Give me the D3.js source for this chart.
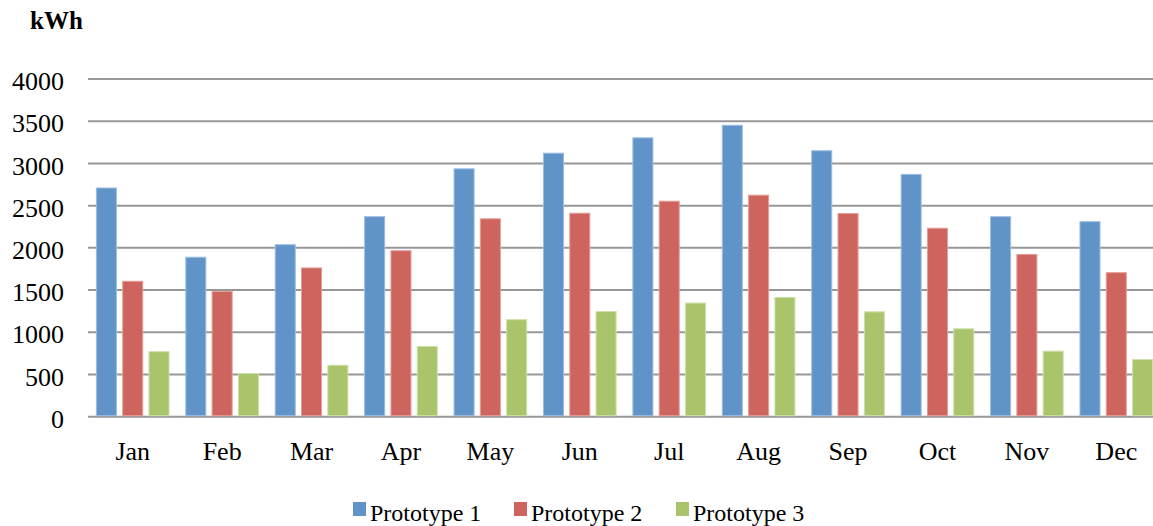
<!DOCTYPE html>
<html>
<head>
<meta charset="utf-8">
<script src="https://cdn.jsdelivr.net/npm/d3@7"></script>
<style>
  body { margin: 0; background: #fff; }
  svg text { font-family: 'Liberation Serif', 'Times New Roman', Times, 'DejaVu Serif', serif; }
</style>
</head>
<body>
<svg id="chart"></svg>
<script>
// monthly energy per prototype (kWh)
const months = ['Jan', 'Feb', 'Mar', 'Apr', 'May', 'Jun', 'Jul', 'Aug', 'Sep', 'Oct', 'Nov', 'Dec'];
const seriesNames = ['Prototype 1', 'Prototype 2', 'Prototype 3'];
const prototype1 = [2715, 1895, 2043, 2375, 2942, 3127, 3309, 3458, 3156, 2876, 2375, 2316];
const prototype2 = [1610, 1489, 1768, 1972, 2350, 2416, 2558, 2630, 2413, 2238, 1928, 1712];
const prototype3 = [776, 518, 615, 838, 1155, 1252, 1352, 1418, 1248, 1047, 782, 683];
const yTicks = [0, 500, 1000, 1500, 2000, 2500, 3000, 3500, 4000];

const colors = ['#6094c8', '#cd645e', '#aac46c'];
const edges = ['#9dbde0', '#e59d98', '#cde0a6'];

const width = 1153, height = 526;
const margin = { top: 79, left: 88, bottom: 109 };
const plotRight = 1161; // plot area runs a little past the cropped edge

const svg = d3.select('#chart').attr('width', width).attr('height', height);

const data = months.map((m, i) => ({
    month: m,
    values: [prototype1[i], prototype2[i], prototype3[i]]
}));

const x0 = d3.scaleBand().domain(months).range([margin.left, plotRight]).padding(0);
const x1 = d3.scaleBand().domain(d3.range(seriesNames.length))
    .range([0, x0.bandwidth()]).paddingInner(0.2).paddingOuter(0.3);
const y = d3.scaleLinear().domain([0, 4000]).range([height - margin.bottom - 0.3, margin.top]);

// gridlines
svg.append('g')
    .selectAll('line')
    .data(yTicks)
    .join('line')
    .attr('x1', margin.left)
    .attr('x2', plotRight)
    .attr('y1', d => y(d))
    .attr('y2', d => y(d))
    .attr('stroke', '#979797')
    .attr('stroke-width', 2);

// y tick labels
svg.append('g')
    .selectAll('text')
    .data(yTicks)
    .join('text')
    .attr('x', 64)
    .attr('y', d => y(d))
    .attr('dy', '0.43em')
    .attr('text-anchor', 'end')
    .attr('font-size', 26)
    .attr('fill', '#000')
    .text(d => d);

// unit label
svg.append('text')
    .attr('x', 30)
    .attr('y', 29)
    .attr('font-size', 25)
    .attr('font-weight', 'bold')
    .text('kWh');

// bars
const groups = svg.append('g')
    .selectAll('g')
    .data(data)
    .join('g')
    .attr('transform', d => `translate(${x0(d.month)},0)`);

groups.selectAll('rect')
    .data(d => d.values.map((v, i) => ({ v, i })))
    .join('rect')
    .attr('x', d => x1(d.i) + 0.5)
    .attr('width', x1.bandwidth() - 1)
    .attr('y', d => y(d.v) + 0.5)
    .attr('height', d => y(0) - y(d.v) - 1.5)
    .attr('fill', d => colors[d.i])
    .attr('stroke', d => edges[d.i])
    .attr('stroke-width', 1);

// x axis labels
const xAxis = d3.axisBottom(x0).tickSize(0).tickPadding(0);
svg.append('g')
    .attr('transform', `translate(0,460)`)
    .call(xAxis)
    .attr('font-family', null)
    .attr('font-size', null)
    .call(g => g.select('.domain').remove())
    .call(g => g.selectAll('text')
        .attr('dy', 0)
        .attr('font-size', 26)
        .attr('fill', '#000'));

// legend
const legendX = [353, 514, 676];
const legend = svg.append('g');
const items = legend.selectAll('g')
    .data(seriesNames)
    .join('g')
    .attr('transform', (d, i) => `translate(${legendX[i]},0)`);

items.append('rect')
    .attr('x', 0)
    .attr('y', 502)
    .attr('width', 13)
    .attr('height', 14)
    .attr('fill', (d, i) => colors[i]);

items.append('text')
    .attr('x', 17)
    .attr('y', 521)
    .attr('font-size', 24)
    .text(d => d);
</script>
</body>
</html>
